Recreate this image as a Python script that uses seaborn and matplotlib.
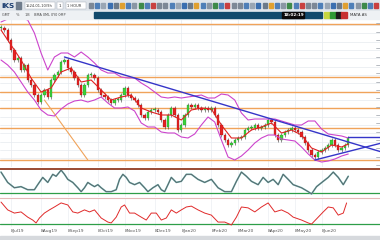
import numpy as np
import pandas as pd
import matplotlib
matplotlib.use("Agg")
import matplotlib.pyplot as plt
import seaborn as sns
from matplotlib.patches import Rectangle
from matplotlib.lines import Line2D

sns.set_theme(style="white")
plt.rcParams['font.family'] = ['DejaVu Sans']

# ---------------- data ----------------
close = [172, 170, 160, 150, 140, 142, 130, 135, 120, 115,
         105, 98, 105, 110, 103, 120, 125, 128, 138, 140,
         132, 128, 122, 115, 105, 115, 125, 125, 122, 110,
         105, 103, 100, 97, 100, 100, 105, 112, 105, 102,
         100, 95, 85, 82, 88, 90, 90, 88, 80, 73,
         85, 92, 85, 70, 75, 85, 95, 93, 95, 92,
         90, 92, 90, 92, 85, 75, 65, 60, 55, 57,
         60, 62, 63, 70, 72, 72, 75, 72, 73, 75,
         80, 78, 65, 60, 65, 68, 70, 72, 70, 68,
         63, 57, 50, 45, 43, 48, 50, 52, 55, 60,
         55, 50, 52, 55, 62]

band_t = list(range(0, 105, 2))
upper = [178, 181, 182, 182, 180, 167, 147, 130, 143, 147, 147, 143, 148, 143,
         137, 130, 127, 127, 123, 122, 122, 117, 113, 108, 103, 102, 103, 102,
         103, 104, 105, 102, 102, 106, 105, 100, 87, 80, 81, 81, 81, 81, 79,
         77, 75, 75, 79, 79, 71, 66, 65, 64, 62]
lower = [140, 135, 128, 118, 108, 100, 90, 85, 84, 91, 96, 99, 100, 98, 100,
         103, 97, 92, 92, 93, 89, 77, 73, 73, 68, 67, 67, 63, 62, 66, 75, 83,
         78, 60, 43, 40, 44, 50, 57, 62, 65, 65, 61, 60, 59, 53, 46, 40, 38,
         39, 41, 44, 46]

ma_t = list(range(0, 103, 3)) + [104]
ma = [170, 155, 140, 122, 108, 112, 128, 132, 118, 120, 110, 100, 103, 105,
      92, 88, 85, 85, 80, 90, 92, 91, 75, 62, 62, 70, 73, 77, 67, 70, 65,
      52, 48, 55, 53, 56]

levels = [176, 123, 108, 92, 72, 40]
down_t, down_v = [19, 114], [143, 48]
up_t, up_v = [94, 114], [40, 57]
fib_t, fib_v = [13, 26], [100, 40]
box_t, box_v = [104, 114], [63, 63]

osc1_t = [0, 2, 4, 6, 8, 10, 11, 12.5, 14, 15.5, 16.5, 18, 19, 20, 21.5, 23, 24,
          25, 26, 27, 28, 29, 30, 31.5, 33, 34.5, 35.5, 36.5, 37.5, 38.5, 40,
          41.5, 43, 44, 45.5, 47, 48, 49, 50, 51, 52.5, 54, 55.5, 57, 59, 61,
          63, 65, 67, 69, 70.5, 72, 73.5, 75, 77, 78.5, 80, 81.5, 83, 84.5, 86,
          87.5, 90, 92, 93, 94.5, 96.5, 98, 99.5, 101, 102.5, 104]
osc1 = [89, 52, 33, 37, 26, 26, 44, 70, 52, 81, 74, 96, 81, 63, 52, 33, 19, 33,
        52, 44, 37, 44, 33, 19, 19, 26, 63, 81, 70, 52, 44, 52, 33, 19, 33, 44,
        26, 19, 44, 70, 52, 56, 81, 81, 63, 52, 63, 33, 19, 19, 56, 89, 74, 56,
        44, 70, 52, 63, 44, 81, 63, 44, 33, 19, 11, 37, 56, 70, 89, 70, 44, 74]
osc1_level = 15

osc2_t = [0, 2, 4, 6, 8, 9.5, 10.5, 11.5, 13, 14.5, 16, 18, 20, 21.5, 23, 25,
          26.5, 28, 30, 32, 33, 34.5, 36, 37, 38.5, 40, 42, 43.5, 45, 46.5, 48,
          49.5, 51, 52.5, 54, 55.5, 57, 59, 61, 63, 65, 67, 69, 70.5, 72, 74,
          76, 78, 80, 82, 84, 86, 87.5, 90, 92, 93, 95, 96.5, 98, 99.5, 101,
          102.5, 103.5]
osc2 = [86, 59, 48, 52, 34, 24, 14, 31, 48, 59, 69, 83, 76, 52, 48, 59, 52, 59,
        31, 17, 14, 34, 69, 76, 48, 48, 34, 24, 48, 48, 24, 31, 59, 48, 59, 69,
        72, 59, 48, 41, 17, 17, 7, 34, 69, 66, 52, 69, 83, 52, 59, 48, 34, 24,
        14, 10, 34, 52, 69, 66, 41, 48, 83]
osc2_level = 10

date_t = [3, 12, 20, 29, 37, 46, 54, 63, 71, 80, 88, 96]
date_labels = ["8Jul19", "8Aug19", "8Sep19", "8Oct19", "8Nov19", "8Dec19",
               "8Jan20", "8Feb20", "8Mar20", "8Apr20", "8May20", "8Jun20"]

# ---------------- figure ----------------
W, H = 380, 240
fig = plt.figure(figsize=(3.8, 2.4), dpi=100)
fig.patch.set_facecolor('white')


def frac(x, y, w, h):
    return [x / W, 1 - (y + h) / H, w / W, h / H]


def frect(x, y, w, h, **kw):
    fig.patches.append(Rectangle((x / W, 1 - (y + h) / H), w / W, h / H,
                                 transform=fig.transFigure, **kw))


def ftext(x, y, s, **kw):
    fig.text(x / W, 1 - y / H, s, **kw)


XL = (-0.3, 113.5)

# ---- main price panel ----
ax = fig.add_axes(frac(0, 19, 380, 148))
ax.set_xlim(*XL)
ax.set_ylim(33, 181)
ax.set_facecolor('white')
ax.yaxis.set_major_locator(matplotlib.ticker.MultipleLocator(25 / 3))
ax.set_xticks(date_t)
ax.grid(True, color='#e6eaef', lw=0.5)
ax.tick_params(axis='both', length=0, labelleft=False, labelbottom=False)
for s in ax.spines.values():
    s.set_visible(False)

for lv in levels:
    ax.axhline(lv, color='#f0a35a', lw=1.0, zorder=1)
ax.plot(fib_t, fib_v, color='#f0a35a', lw=0.8, zorder=1)

t = np.arange(len(close))
c = np.array(close, dtype=float)
o = np.r_[c[0], c[:-1]]
up_mask = c >= o
body_lo = np.minimum(o, c)
body_h = np.maximum(np.abs(c - o), 0.8)
ax.vlines(t, body_lo - 2, body_lo + body_h + 2, color='#3a3a3a', lw=0.4, zorder=2)
ax.bar(t[up_mask], body_h[up_mask], bottom=body_lo[up_mask], width=0.7,
       color='#3bd13b', edgecolor='#207a20', linewidth=0.2, zorder=3)
ax.bar(t[~up_mask], body_h[~up_mask], bottom=body_lo[~up_mask], width=0.7,
       color='#e52222', edgecolor='#8a1010', linewidth=0.2, zorder=3)

sns.lineplot(x=band_t, y=upper, ax=ax, color='#cc44cc', lw=0.8, estimator=None, zorder=4)
sns.lineplot(x=band_t, y=lower, ax=ax, color='#cc44cc', lw=0.8, estimator=None, zorder=4)
sns.lineplot(x=ma_t, y=ma, ax=ax, color='#e02020', lw=0.8, estimator=None, zorder=4)

ax.plot(down_t, down_v, color='#3535c8', lw=1.0, zorder=5)
ax.plot(up_t, up_v, color='#3535c8', lw=1.0, zorder=5)
ax.plot(box_t, box_v, color='#3535c8', lw=1.0, zorder=5)
ax.set_xlabel('')
ax.set_ylabel('')

# right-edge tick dashes
for yv in np.arange(35, 181, 25 / 3):
    ax.plot([112.4, 113.5], [yv, yv], color='#9aa0a8', lw=0.5, clip_on=False)

# ---- oscillator 1 ----
ax1 = fig.add_axes(frac(0, 169, 380, 28))
ax1.set_xlim(*XL)
ax1.set_ylim(0, 100)
ax1.set_xticks(date_t)
ax1.grid(True, axis='x', color='#eceff3', lw=0.5)
ax1.tick_params(length=0, labelleft=False, labelbottom=False)
for s in ax1.spines.values():
    s.set_visible(False)
ax1.spines['top'].set_visible(True)
ax1.spines['top'].set_color('#9a4a32')
ax1.spines['top'].set_linewidth(1.4)
ax1.axhline(osc1_level, color='#2e9e48', lw=0.9)
sns.lineplot(x=osc1_t, y=osc1, ax=ax1, color='#6fb5b0', lw=1.2, estimator=None)
sns.lineplot(x=osc1_t, y=osc1, ax=ax1, color='#5a5f66', lw=0.6, estimator=None)
ax1.set_xlabel('')
ax1.set_ylabel('')

# ---- oscillator 2 ----
ax2 = fig.add_axes(frac(0, 198, 380, 29))
ax2.set_xlim(*XL)
ax2.set_ylim(0, 100)
ax2.set_xticks(date_t)
ax2.set_xticklabels(date_labels)
ax2.grid(True, axis='x', color='#eceff3', lw=0.5)
ax2.tick_params(axis='y', length=0, labelleft=False)
ax2.tick_params(axis='x', length=5, width=0.4, color='#8a8a8a', direction='out',
                labelsize=3.2, labelcolor='#555555', pad=-3.5)
for lab in ax2.get_xticklabels():
    lab.set_horizontalalignment('left')
for s in ax2.spines.values():
    s.set_visible(False)
ax2.spines['top'].set_visible(True)
ax2.spines['top'].set_color('#e6b8b8')
ax2.spines['top'].set_linewidth(0.8)
ax2.axhline(osc2_level, color='#2e9e48', lw=0.9)
sns.lineplot(x=osc2_t, y=osc2, ax=ax2, color='#e02a2a', lw=0.7, estimator=None)
ax2.set_xlabel('')
ax2.set_ylabel('')

# ---- toolbar rows ----
frect(0, 0, 380, 11, color='#dfe4ea', zorder=0)
frect(0, 11, 380, 8, color='#eef1f4', zorder=0)
ftext(1, 6, 'iKS', fontsize=5.2, fontweight='bold', color='#1d3f72', va='center')
frect(16, 2, 5, 7, color='#6f7c8c')
frect(25, 2, 30, 7, facecolor='white', edgecolor='#a0a8b4', linewidth=0.3)
ftext(26, 5.8, '1524-01-10/9h', fontsize=2.6, color='#333', va='center')
frect(57, 2, 6, 7, facecolor='white', edgecolor='#a0a8b4', linewidth=0.3)
ftext(58.5, 5.8, '1', fontsize=3, color='#333', va='center')
frect(66, 2, 20, 7, facecolor='white', edgecolor='#a0a8b4', linewidth=0.3)
ftext(67, 5.8, '1 HOUR', fontsize=2.6, color='#333', va='center')
icon_cols = ['#7d8896', '#4f7fb8', '#9aa6b4', '#3b6fb0', '#6c7a8a', '#e0a030',
             '#4f7fb8', '#8a96a4', '#3e8a4a', '#4f7fb8', '#c94040', '#7d8896']
xi = 89
k = 0
while xi < 376:
    frect(xi, 3, 4, 5, color=icon_cols[k % len(icon_cols)])
    xi += 6.2
    k += 1
# second row
ftext(2, 15, 'GMT      %     1B    BMA 0ML 0Y0 0MP', fontsize=2.4, color='#444', va='center')
frect(94, 12, 228, 6, color='#124a6c')
frect(282, 12, 22, 6, color='#0a0a0a')
ftext(284, 15.2, '18:02:19', fontsize=3.0, color='white', va='center', fontweight='bold')
frect(324, 12.5, 6, 5, color='#c8d640')
frect(330, 12.5, 6, 5, color='#2f9a35')
frect(336, 12.5, 5, 5, color='#1b1b1b')
frect(341, 12.5, 6, 5, color='#c83030')
ftext(350, 15.2, 'MATA AS', fontsize=2.8, color='#333', va='center')

# bottom strip
frect(0, 236, 380, 4, color='#d6d9dd', zorder=0)

fig.savefig('out.png', dpi=100, facecolor='white')
